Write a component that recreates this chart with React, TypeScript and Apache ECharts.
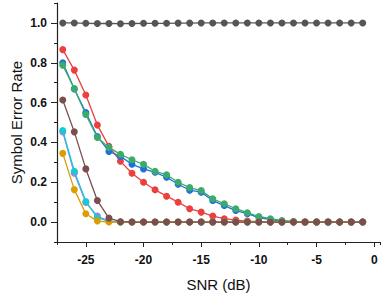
import React, { useEffect, useRef } from "react";
import * as echarts from "echarts";

const snr = [-27, -26, -25, -24, -23, -22, -21, -20, -19, -18, -17, -16, -15, -14, -13, -12, -11, -10, -9, -8, -7, -6, -5, -4, -3, -2, -1];

const grayVals = [1.0, 1.0, 0.998, 0.997, 0.997, 0.996, 0.997, 0.998, 0.998, 0.998, 0.999, 0.999, 1.0, 1.0, 1.0, 1.0, 1.0, 1.0, 1.0, 1.0, 1.0, 1.0, 1.0, 1.0, 1.0, 1.0, 1.0];
const redVals = [0.866, 0.763, 0.638, 0.487, 0.38, 0.305, 0.245, 0.2, 0.162, 0.13, 0.1, 0.067, 0.05, 0.03, 0.017, 0.01, 0.005, 0.002, 0, 0, 0, 0, 0, 0, 0, 0, 0];
const blueVals = [0.8, 0.668, 0.55, 0.43, 0.355, 0.33, 0.29, 0.267, 0.25, 0.225, 0.19, 0.16, 0.15, 0.108, 0.083, 0.058, 0.042, 0.022, 0.012, 0.005, 0.002, 0, 0, 0, 0, 0, 0];
const greenVals = [0.788, 0.67, 0.54, 0.425, 0.375, 0.34, 0.313, 0.29, 0.255, 0.238, 0.2, 0.173, 0.158, 0.117, 0.092, 0.067, 0.047, 0.028, 0.017, 0.008, 0.003, 0, 0, 0, 0, 0, 0];
const purpleVals = [0.452, 0.245, 0.098, 0.03, 0.005, 0, 0, 0, 0, 0, 0, 0, 0, 0, 0, 0, 0, 0, 0, 0, 0, 0, 0, 0, 0, 0, 0];
const cyanVals = [0.46, 0.255, 0.103, 0.022, 0.003, 0, 0, 0, 0, 0, 0, 0, 0, 0, 0, 0, 0, 0, 0, 0, 0, 0, 0, 0, 0, 0, 0];
const orangeVals = [0.345, 0.163, 0.042, 0.005, 0, 0, 0, 0, 0, 0, 0, 0, 0, 0, 0, 0, 0, 0, 0, 0, 0, 0, 0, 0, 0, 0, 0];
const brownVals = [0.613, 0.453, 0.267, 0.108, 0.02, 0.002, 0, 0, 0, 0, 0, 0, 0, 0, 0, 0, 0, 0, 0, 0, 0, 0, 0, 0, 0, 0, 0];

const xMajor = [-25, -20, -15, -10, -5, 0];
const yMajor = [0, 0.2, 0.4, 0.6, 0.8, 1.0];

const seriesDefs = [
  { name: "gray", color: "#555555", vals: grayVals },
  { name: "red", color: "#ec4040", vals: redVals },
  { name: "blue", color: "#2070dc", vals: blueVals },
  { name: "green", color: "#3aab6a", vals: greenVals },
  { name: "purple", color: "#b27de2", vals: purpleVals },
  { name: "cyan", color: "#18c8d4", vals: cyanVals },
  { name: "orange", color: "#d99e00", vals: orangeVals },
  { name: "brown", color: "#7a4e4e", vals: brownVals },
];

const FONT = "Liberation Sans, Arial, sans-serif";

export default function App() {
  const ref = useRef<HTMLDivElement>(null);
  useEffect(() => {
    if (!ref.current) return;
    const chart = echarts.init(ref.current, undefined, { renderer: "svg" });
    const axisLine = { show: true, onZero: false, lineStyle: { color: "#222", width: 1.2 } };
    const hiddenLine = { show: false, onZero: false };
    chart.setOption({
      animation: false,
      backgroundColor: "#fff",
      grid: { left: 57, right: 6, top: 3, bottom: 53 },
      xAxis: [
        {
          type: "value",
          position: "bottom",
          min: -27.5,
          max: 0.5,
          axisLine,
          splitLine: { show: false },
          axisTick: { show: true, customValues: xMajor, length: 5, lineStyle: { color: "#222" } },
          axisLabel: {
            customValues: xMajor,
            color: "#111",
            fontWeight: "bold",
            fontSize: 12,
            fontFamily: FONT,
            margin: 12,
          },
          name: "SNR (dB)",
          nameLocation: "middle",
          nameGap: 35,
          nameMoveOverlap: false,
          nameTextStyle: { fontSize: 15, color: "#111", fontFamily: FONT },
        },
        {
          type: "value",
          min: -27.5,
          max: 0.5,
          interval: 2.5,
          position: "bottom",
          axisLine: hiddenLine,
          splitLine: { show: false },
          axisTick: { show: true, length: 3, lineStyle: { color: "#222" } },
          axisLabel: { show: false },
        },
      ],
      yAxis: [
        {
          type: "value",
          position: "left",
          min: -0.1,
          max: 1.1,
          axisLine,
          splitLine: { show: false },
          axisTick: { show: true, customValues: yMajor, length: 6, lineStyle: { color: "#222" } },
          axisLabel: {
            customValues: yMajor,
            formatter: (v: number) => v.toFixed(1),
            color: "#111",
            fontWeight: "bold",
            fontSize: 12,
            fontFamily: FONT,
            margin: 10,
          },
          name: "Symbol Error Rate",
          nameLocation: "middle",
          nameGap: 33,
          nameMoveOverlap: false,
          nameTextStyle: { fontSize: 15, color: "#111", fontFamily: FONT },
        },
        {
          type: "value",
          min: -0.1,
          max: 1.1,
          interval: 0.1,
          position: "left",
          axisLine: hiddenLine,
          splitLine: { show: false },
          axisTick: { show: true, length: 3, lineStyle: { color: "#222" } },
          axisLabel: { show: false },
        },
      ],
      series: seriesDefs.map((s, i) => ({
        name: s.name,
        type: "line",
        xAxisIndex: 0,
        yAxisIndex: 0,
        data: snr.map((x, j) => [x, s.vals[j]]),
        symbol: "circle",
        symbolSize: 7,
        z: 2 + i,
        lineStyle: { color: s.color, width: 1.3 },
        itemStyle: { color: s.color },
      })),
    });
    return () => chart.dispose();
  }, []);
  return <div ref={ref} style={{ width: 386, height: 297, position: "absolute", left: 0, top: 0 }} />;
}
